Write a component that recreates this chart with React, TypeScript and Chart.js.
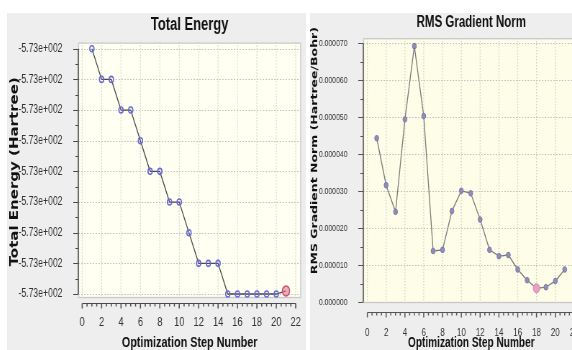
import React, { useEffect, useRef } from "react";
import { Chart, registerables } from "chart.js";

Chart.register(...registerables);

// The reference screenshot is horizontally squeezed; we draw wider and compress.
const K = 0.72;
const FONT = "'Liberation Sans', Arial, Helvetica, sans-serif";
const YFONT = "'DejaVu Sans', Verdana, sans-serif";

// ---------- data ----------
const steps = [1, 2, 3, 4, 5, 6, 7, 8, 9, 10, 11, 12, 13, 14, 15, 16, 17, 18, 19, 20, 21];

const totalEnergy = [
  -572.996, -572.9965, -572.9965, -572.997, -572.997, -572.9975, -572.998, -572.998,
  -572.9985, -572.9985, -572.999, -572.9995, -572.9995, -572.9995, -573.0, -573.0,
  -573.0, -573.0, -573.0, -573.0, -572.99995,
];
const energyTicks = [
  -572.996, -572.9965, -572.997, -572.9975, -572.998, -572.9985, -572.999, -572.9995, -573.0,
];

const rmsGradient = [
  4.43e-5, 3.16e-5, 2.44e-5, 4.94e-5, 6.92e-5, 5.03e-5, 1.38e-5, 1.41e-5, 2.46e-5, 3.01e-5,
  2.94e-5, 2.23e-5, 1.41e-5, 1.24e-5, 1.27e-5, 0.88e-5, 0.59e-5, 0.37e-5, 0.4e-5, 0.57e-5,
  0.88e-5,
];
const rmsTicks = [0, 1e-5, 2e-5, 3e-5, 4e-5, 5e-5, 6e-5, 7e-5];

const stepTicks = [0, 2, 4, 6, 8, 10, 12, 14, 16, 18, 20, 22];

const energyHighlightStep = 21;
const rmsHighlightStep = 18;

// ---------- helpers ----------
function fmtSci(v: number): string {
  const [m, e] = v.toExponential(2).split("e");
  const sign = e[0] === "-" ? "-" : "+";
  const digits = e.replace(/^[+-]/, "").padStart(3, "0");
  return `${m}e${sign}${digits}`;
}

const decor = {
  id: "decor",
  beforeDraw(chart: any, _a: any, o: any) {
    const { ctx, chartArea: a } = chart;
    ctx.save();
    ctx.fillStyle = o.plotBg;
    ctx.fillRect(a.left, a.top, a.right - a.left, a.bottom - a.top);
    ctx.restore();
  },
  beforeDatasetsDraw(chart: any, _a: any, o: any) {
    const { ctx, chartArea: a, scales } = chart;
    const xs = scales.x;
    const ys = scales.y;
    ctx.save();
    ctx.strokeStyle = o.gridColor;
    ctx.lineWidth = 1.3;
    ctx.setLineDash([1, 2]);
    for (const t of xs.ticks) {
      const px = xs.getPixelForValue(t.value);
      ctx.beginPath();
      ctx.moveTo(px, a.top);
      ctx.lineTo(px, a.bottom);
      ctx.stroke();
    }
    ctx.lineWidth = 1;
    ctx.setLineDash([2, 2]);
    for (const t of ys.ticks) {
      const py = Math.round(ys.getPixelForValue(t.value)) + 0.5;
      ctx.beginPath();
      ctx.moveTo(a.left, py);
      ctx.lineTo(a.right, py);
      ctx.stroke();
    }
    ctx.setLineDash([]);
    ctx.strokeStyle = o.frameColor;
    ctx.lineWidth = 1.3;
    ctx.strokeRect(a.left + 0.5, a.top + 0.5, a.right - a.left - 1, a.bottom - a.top - 1);
    ctx.restore();
  },
  afterDraw(chart: any, _a: any, o: any) {
    const { ctx, chartArea: a, scales } = chart;
    const xs = scales.x;
    const ys = scales.y;
    ctx.save();
    ctx.strokeStyle = o.axisColor;

    // y axis
    const yp = ys.ticks.map((t: any) => ys.getPixelForValue(t.value));
    const ax = a.left;
    ctx.lineWidth = 1.5;
    ctx.beginPath();
    ctx.moveTo(ax, Math.min(...yp));
    ctx.lineTo(ax, Math.max(...yp));
    ctx.stroke();
    ctx.lineWidth = 1;
    for (let i = 0; i < yp.length; i++) {
      const py = Math.round(yp[i]) + 0.5;
      ctx.beginPath();
      ctx.moveTo(ax - 7, py);
      ctx.lineTo(ax, py);
      ctx.stroke();
      if (i < yp.length - 1) {
        const pm = Math.round((yp[i] + yp[i + 1]) / 2) + 0.5;
        ctx.beginPath();
        ctx.moveTo(ax - 4, pm);
        ctx.lineTo(ax, pm);
        ctx.stroke();
      }
    }

    // x axis (offset below the plot)
    const xv = xs.ticks.map((t: any) => t.value);
    const ay = Math.round(a.bottom + o.xGap) + 0.5;
    ctx.lineWidth = 1;
    ctx.beginPath();
    ctx.moveTo(xs.getPixelForValue(xv[0]), ay);
    ctx.lineTo(xs.getPixelForValue(xv[xv.length - 1]), ay);
    ctx.stroke();
    ctx.lineWidth = 1.5;
    for (let i = 0; i < xv.length; i++) {
      const px = xs.getPixelForValue(xv[i]);
      ctx.beginPath();
      ctx.moveTo(px, ay);
      ctx.lineTo(px, ay + 5);
      ctx.stroke();
      if (i < xv.length - 1) {
        for (let q = 1; q < 4; q++) {
          const v = xv[i] + ((xv[i + 1] - xv[i]) * q) / 4;
          const pm = xs.getPixelForValue(v);
          ctx.beginPath();
          ctx.moveTo(pm, ay);
          ctx.lineTo(pm, ay + 3);
          ctx.stroke();
        }
      }
    }

    // rotated y title
    const cy = (a.top + a.bottom) / 2 + o.yTitle.dy;
    ctx.translate(o.yTitle.x, cy);
    ctx.rotate(-Math.PI / 2);
    ctx.fillStyle = "#111";
    ctx.font = `bold ${o.yTitle.size}px ${YFONT}`;
    ctx.textAlign = "center";
    ctx.textBaseline = "middle";
    ctx.fillText(o.yTitle.text, 0, 0);
    ctx.restore();
  },
};

type PanelProps = {
  left: number;
  top: number;
  width: number;
  height: number;
  innerWidth: number;
  make: () => any;
};

function Panel({ left, top, width, height, innerWidth, make }: PanelProps) {
  const ref = useRef<HTMLCanvasElement | null>(null);
  useEffect(() => {
    if (!ref.current) return;
    const chart = new Chart(ref.current, make());
    return () => chart.destroy();
  }, []);
  return (
    <div
      style={{
        position: "absolute",
        left,
        top,
        width,
        height,
        overflow: "hidden",
        background: "#eeeeee",
      }}
    >
      <canvas
        ref={ref}
        width={innerWidth}
        height={height}
        style={{ display: "block", transform: `scaleX(${K})`, transformOrigin: "0 0" }}
      />
    </div>
  );
}

function noPad(s: any) {
  s.paddingLeft = 0;
  s.paddingRight = 0;
}

function energyConfig() {
  const hi = steps.indexOf(energyHighlightStep);
  return {
    type: "line",
    data: {
      datasets: [
        {
          data: steps.map((s, i) => ({ x: s, y: totalEnergy[i] })),
          borderColor: "#4a4a4a",
          borderWidth: 1.3,
          pointRadius: (c: any) => (c.dataIndex === hi ? 5 : 3),
          pointBorderWidth: 1.6,
          pointBackgroundColor: (c: any) => (c.dataIndex === hi ? "rgba(225,120,150,0.6)" : "rgba(255,255,255,0)"),
          pointBorderColor: (c: any) => (c.dataIndex === hi ? "#c8506e" : "#6a6ad8"),
          tension: 0,
        },
      ],
    },
    options: {
      animation: false,
      responsive: false,
      devicePixelRatio: 1,
      layout: { padding: { left: 0, right: 4, top: 0, bottom: 0 } },
      plugins: {
        legend: { display: false },
        tooltip: { enabled: false },
        title: {
          display: true,
          text: "Total Energy",
          fullSize: false,
          color: "#111",
          font: { family: FONT, size: 18, weight: "bold", lineHeight: 1.2 },
          padding: { top: 1, bottom: 7 },
        },
        decor: {
          plotBg: "#fffff2",
          gridColor: "#c4c4c4",
          frameColor: "#c8c8c8",
          axisColor: "#4a4a4a",
          xGap: 5,
          yTitle: { text: "Total Energy (Hartree)", x: 11, dy: 1.5, size: 15 },
        },
      },
      scales: {
        x: {
          type: "linear",
          min: -0.4,
          max: 22.55,
          afterBuildTicks: (s: any) => {
            s.ticks = stepTicks.map((v) => ({ value: v }));
          },
          afterFit: (s: any) => {
            s.height = 52;
            noPad(s);
          },
          grid: { display: false },
          border: { display: false },
          ticks: {
            autoSkip: false,
            maxRotation: 0,
            padding: 9,
            color: "#333",
            font: { family: FONT, size: 13 },
            callback: (v: any) => String(v),
          },
          title: {
            display: true,
            text: "Optimization Step Number",
            color: "#111",
            font: { family: FONT, size: 15, weight: "bold", lineHeight: 1 },
            padding: { top: 0, bottom: 0 },
          },
        },
        y: {
          type: "linear",
          min: -573.000065,
          max: -572.9959,
          afterBuildTicks: (s: any) => {
            s.ticks = energyTicks.map((v) => ({ value: v }));
          },
          afterFit: (s: any) => {
            s.width = 99;
          },
          grid: { display: false },
          border: { display: false },
          ticks: {
            autoSkip: false,
            padding: 14,
            color: "#333",
            font: { family: FONT, size: 12 },
            callback: (v: any) => fmtSci(Number(v)),
          },
        },
      },
    },
    plugins: [decor],
  };
}

function rmsConfig() {
  const hi = steps.indexOf(rmsHighlightStep);
  return {
    type: "line",
    data: {
      datasets: [
        {
          data: steps.map((s, i) => ({ x: s, y: rmsGradient[i] })),
          borderColor: "#7a7a7a",
          borderWidth: 1.3,
          pointRadius: (c: any) => (c.dataIndex === hi ? 4.5 : 2.8),
          pointBorderWidth: 1,
          pointBackgroundColor: (c: any) => (c.dataIndex === hi ? "#e6a0c4" : "#8e8eb6"),
          pointBorderColor: (c: any) => (c.dataIndex === hi ? "#d488b0" : "#7c7ca8"),
          tension: 0,
        },
      ],
    },
    options: {
      animation: false,
      responsive: false,
      devicePixelRatio: 1,
      layout: { padding: { left: 0, right: 6, top: 0, bottom: 0 } },
      plugins: {
        legend: { display: false },
        tooltip: { enabled: false },
        title: {
          display: true,
          text: "RMS Gradient Norm",
          fullSize: false,
          color: "#111",
          font: { family: FONT, size: 16, weight: "bold", lineHeight: 1.2 },
          padding: { top: 0, bottom: 6 },
        },
        decor: {
          plotBg: "#fdfde8",
          gridColor: "#c4c4c4",
          frameColor: "#c8c8c8",
          axisColor: "#555",
          xGap: 9,
          yTitle: { text: "RMS Gradient Norm (Hartree/Bohr)", x: 7, dy: -20, size: 12.5 },
        },
      },
      scales: {
        x: {
          type: "linear",
          min: -0.43,
          max: 22.55,
          afterBuildTicks: (s: any) => {
            s.ticks = stepTicks.map((v) => ({ value: v }));
          },
          afterFit: (s: any) => {
            s.height = 47;
            noPad(s);
          },
          grid: { display: false },
          border: { display: false },
          ticks: {
            autoSkip: false,
            maxRotation: 0,
            padding: 15,
            color: "#333",
            font: { family: FONT, size: 11 },
            callback: (v: any) => String(v),
          },
          title: {
            display: true,
            text: "Optimization Step Number",
            color: "#111",
            font: { family: FONT, size: 14, weight: "bold", lineHeight: 1 },
            padding: { top: 0, bottom: 0 },
          },
        },
        y: {
          type: "linear",
          min: -0.00000027,
          max: 0.00007135,
          afterBuildTicks: (s: any) => {
            s.ticks = rmsTicks.map((v) => ({ value: v }));
          },
          afterFit: (s: any) => {
            s.width = 74;
          },
          grid: { display: false },
          border: { display: false },
          ticks: {
            autoSkip: false,
            padding: 14,
            color: "#333",
            font: { family: FONT, size: 9.5 },
            callback: (v: any) => Number(v).toFixed(6),
          },
        },
      },
    },
    plugins: [decor],
  };
}

export default function App() {
  return (
    <div
      style={{
        position: "fixed",
        left: 0,
        top: 0,
        width: 572,
        height: 350,
        overflow: "hidden",
        background: "#ffffff",
      }}
    >
      <Panel left={7} top={13} width={299} height={337} innerWidth={415} make={energyConfig} />
      <Panel left={310} top={13} width={262} height={337} innerWidth={380} make={rmsConfig} />
    </div>
  );
}
